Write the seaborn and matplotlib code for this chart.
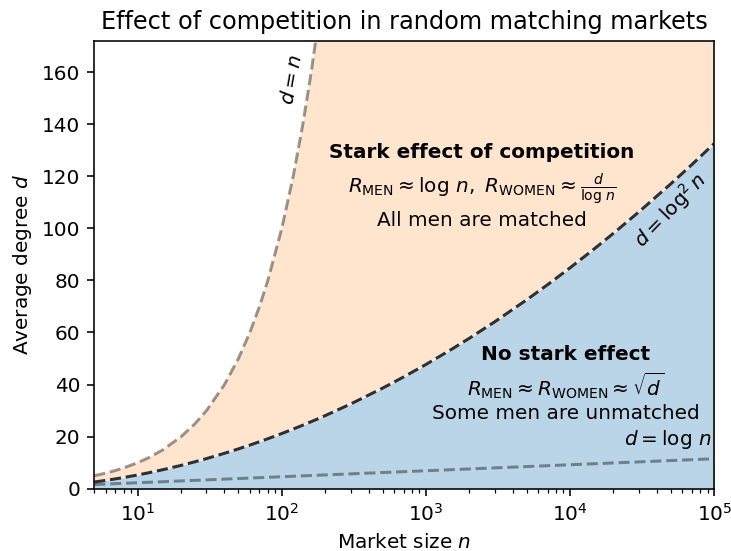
import numpy as np
import pandas as pd
import matplotlib
matplotlib.use("Agg")
import matplotlib.pyplot as plt
import seaborn as sns

# market sizes n (log-spaced sample points)
market_size = [5, 6, 7, 8, 10, 12, 15, 20, 25, 30, 40, 50, 60, 70, 80, 100,
               120, 140, 160, 180, 200, 300, 500, 700, 1000, 1500, 2000, 3000,
               5000, 7000, 10000, 15000, 20000, 30000, 50000, 70000, 100000]

# d = n boundary (same values as n)
degree_linear = [5, 6, 7, 8, 10, 12, 15, 20, 25, 30, 40, 50, 60, 70, 80, 100,
                 120, 140, 160, 180, 200, 300, 500, 700, 1000, 1500, 2000, 3000,
                 5000, 7000, 10000, 15000, 20000, 30000, 50000, 70000, 100000]

# d = log^2 n boundary
degree_log2 = [2.59, 3.21, 3.79, 4.32, 5.30, 6.17, 7.33, 8.97, 10.36, 11.57,
               13.61, 15.30, 16.76, 18.05, 19.20, 21.21, 22.92, 24.42, 25.76,
               26.97, 28.07, 32.53, 38.62, 42.92, 47.72, 53.48, 57.77, 64.10,
               72.54, 78.39, 84.83, 92.47, 98.08, 106.28, 117.07, 124.46, 132.55]

# d = log n boundary
logn_size = [5, 10, 100, 1000, 10000, 100000]
degree_log = [1.61, 2.30, 4.61, 6.91, 9.21, 11.51]

fig, ax = plt.subplots(figsize=(731 / 144, 551 / 144), dpi=144)
fig.subplots_adjust(left=0.129, right=0.977, top=0.926, bottom=0.113)

# regions
ax.fill_between(market_size, 0, degree_log2, color="tab:blue", alpha=0.3, lw=0)
ax.fill_between(market_size, degree_log2, degree_linear, color="tab:orange",
                alpha=0.2, lw=0)

lin = pd.DataFrame({"n": market_size[:21], "d": degree_linear[:21]})
sq = pd.DataFrame({"n": market_size, "d": degree_log2})
lg = pd.DataFrame({"n": logn_size, "d": degree_log})

sns.lineplot(data=lin, x="n", y="d", ax=ax, color="k", alpha=0.4, lw=1.5,
             linestyle="--", sort=False)
sns.lineplot(data=sq, x="n", y="d", ax=ax, color="k", alpha=0.8, lw=1.5,
             linestyle="--", sort=False)
sns.lineplot(data=lg, x="n", y="d", ax=ax, color="k", alpha=0.4, lw=1.5,
             linestyle="--", sort=False)

ax.set_xscale("log")
ax.set_xlim(5, 1e5)
ax.set_ylim(0, 172)

# curve labels
ax.text(118, 157, r"$d = n$", rotation=80, ha="center", va="center")
ax.text(5e4, 107, r"$d = \log^2 n$", rotation=46, ha="center", va="center")
ax.text(9.6e4, 19, r"$d = \log\,n$", ha="right", va="center")

# region annotations
ax.text(2450, 129, "Stark effect of competition", ha="center", va="center",
        fontweight="bold")
ax.text(2450, 115, r"$R_{\mathrm{MEN}} \approx \log\,n,\ R_{\mathrm{WOMEN}} \approx \frac{d}{\log\,n}$",
        ha="center", va="center")
ax.text(2450, 103, "All men are matched", ha="center", va="center")

ax.text(9300, 51.5, "No stark effect", ha="center", va="center",
        fontweight="bold")
ax.text(9300, 39.5, r"$R_{\mathrm{MEN}} \approx R_{\mathrm{WOMEN}} \approx \sqrt{d}$",
        ha="center", va="center")
ax.text(9300, 29, "Some men are unmatched", ha="center", va="center")

ax.set_title("Effect of competition in random matching markets")
ax.set_xlabel("Market size $n$")
ax.set_ylabel("Average degree $d$")

fig.savefig("out.png", dpi=144)
